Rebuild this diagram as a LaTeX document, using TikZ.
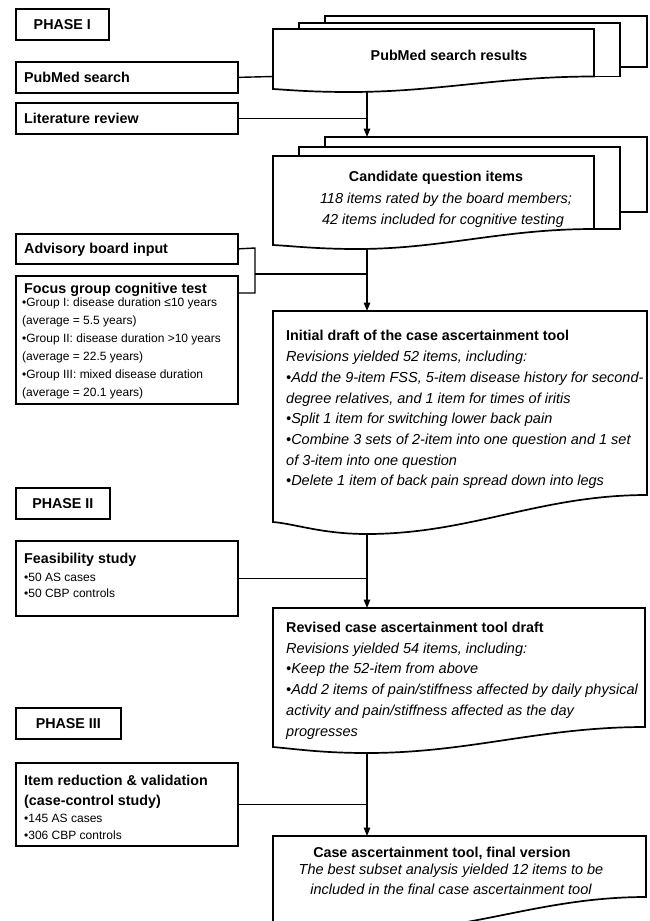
\documentclass[tikz,border=0pt]{standalone}
\usepackage{fontspec}
\setmainfont{Liberation Sans}
\usetikzlibrary{arrows.meta}
\begin{document}
\begin{tikzpicture}[x=1pt,y=-1pt,
  box/.style={draw,line width=1.7pt,fill=white,anchor=north west,inner sep=0pt},
  ttl/.style={font=\fontsize{14.3}{17}\selectfont\bfseries,inner sep=0pt},
  itl/.style={font=\fontsize{14.5}{17}\selectfont\itshape,inner sep=0pt},
  sml/.style={font=\fontsize{12}{14}\selectfont,inner sep=0pt},
  conn/.style={line width=1.4pt},
  arr/.style={conn,-{Triangle[length=8.5pt,width=6.5pt]}},
  docline/.style={draw,line width=1.7pt,fill=white,line join=miter}]
\useasboundingbox (0,0) rectangle (649,921);

% ---------- left column boxes ----------
\node[box,minimum width=93pt,minimum height=31pt] (ph1) at (15,8) {};
\node[ttl] (ph1t) at (ph1.center) {PHASE I};
\node[box,minimum width=222pt,minimum height=31pt] (pubmed) at (15,61) {};
\node[ttl,anchor=base west] (pubmedt) at (24,82) {PubMed search};
\node[box,minimum width=222pt,minimum height=31pt] (lit) at (15,102) {};
\node[ttl,anchor=base west] (litt) at (24,123) {Literature review};
\node[box,minimum width=222pt,minimum height=30pt] (adv) at (15,233) {};
\node[ttl,anchor=base west] (advt) at (24,253) {Advisory board input};
\node[box,minimum width=222pt,minimum height=128pt] (focus) at (15,275) {};
\node[ttl,anchor=base west] (focust) at (24,293) {Focus group cognitive test};
\node[sml,anchor=base west] (f1) at (22,306) {•Group I: disease duration ≤10 years};
\node[sml,anchor=base west] (f2) at (22,324) {(average = 5.5 years)};
\node[sml,anchor=base west] (f3) at (22,342) {•Group II: disease duration >10 years};
\node[sml,anchor=base west] (f4) at (22,360) {(average = 22.5 years)};
\node[sml,anchor=base west] (f5) at (22,378) {•Group III: mixed disease duration};
\node[sml,anchor=base west] (f6) at (22,396) {(average = 20.1 years)};

\node[box,minimum width=94pt,minimum height=31pt] (ph2) at (15,487) {};
\node[ttl] (ph2t) at (ph2.center) {PHASE II};
\node[box,minimum width=222pt,minimum height=75pt] (feas) at (15,540) {};
\node[ttl,anchor=base west] (feast) at (24,563) {Feasibility study};
\node[sml,anchor=base west] (fe1) at (24,581) {•50 AS cases};
\node[sml,anchor=base west] (fe2) at (24,597) {•50 CBP controls};

\node[box,minimum width=105pt,minimum height=31pt] (ph3) at (15,707) {};
\node[ttl] (ph3t) at (ph3.center) {PHASE III};
\node[box,minimum width=222pt,minimum height=83pt] (item) at (15,762) {};
\node[ttl,anchor=base west] (itemt1) at (24,785) {Item reduction \& validation};
\node[ttl,anchor=base west] (itemt2) at (24,805) {(case-control study)};
\node[sml,anchor=base west] (it1) at (24,822) {•145 AS cases};
\node[sml,anchor=base west] (it2) at (24,839) {•306 CBP controls};

% ---------- PubMed search results (stacked documents) ----------
\path[docline] (325,16) rectangle (647,67);
\path[docline] (299,23) rectangle (620,76.5);
\path[docline] (273,29) -- (594,29) -- (594,76.5) .. controls (499,76.5) and (438,92) .. (350,92) .. controls (310,92) and (290,90) .. (273,89) -- cycle;
\node[ttl] (pmrt) at (449,55) {PubMed search results};

% ---------- Candidate question items (stacked documents) ----------
\path[docline] (325,137) rectangle (647,212);
\path[docline] (299,147) rectangle (620,229);
\path[docline] (273,156) -- (594,156) -- (594,229) .. controls (502,229) and (442,249) .. (357,249) .. controls (317,249) and (292,246) .. (273,245) -- cycle;
\node[ttl] (candt) at (436,178) {Candidate question items};
\node[itl] (cand1) at (446,200) {118 items rated by the board members;};
\node[itl] (cand2) at (443,221) {42 items included for cognitive testing};

% ---------- Initial draft ----------
\path[docline] (273,311) -- (647,311) -- (647,495) .. controls (540,495) and (470,534) .. (367,534) .. controls (322,534) and (296,524) .. (273,522) -- cycle;
\node[ttl,anchor=base west] (initt) at (286,340) {Initial draft of the case ascertainment tool};
\node[itl,anchor=base west] (in1) at (286,361) {Revisions yielded 52 items, including:};
\node[itl,anchor=base west] (in2) at (286,382) {•Add the 9-item FSS, 5-item disease history for second-};
\node[itl,anchor=base west] (in3) at (286,403) {degree relatives, and 1 item for times of iritis};
\node[itl,anchor=base west] (in4) at (286,423) {•Split 1 item for switching lower back pain};
\node[itl,anchor=base west] (in5) at (286,444) {•Combine 3 sets of 2-item into one question and 1 set};
\node[itl,anchor=base west] (in6) at (286,465) {of 3-item into one question};
\node[itl,anchor=base west] (in7) at (286,485) {•Delete 1 item of back pain spread down into legs};

% ---------- Revised draft ----------
\path[docline] (273,608) -- (645,608) -- (645,727) .. controls (540,727) and (470,753) .. (367,753) .. controls (322,753) and (296,749) .. (273,747) -- cycle;
\node[ttl,anchor=base west] (revt) at (286,632) {Revised case ascertainment tool draft};
\node[itl,anchor=base west] (rv1) at (286,653) {Revisions yielded 54 items, including:};
\node[itl,anchor=base west] (rv2) at (286,673) {•Keep the 52-item from above};
\node[itl,anchor=base west] (rv3) at (286,694) {•Add 2 items of pain/stiffness affected by daily physical};
\node[itl,anchor=base west] (rv4) at (286,715) {activity and pain/stiffness affected as the day};
\node[itl,anchor=base west] (rv5) at (286,736) {progresses};

% ---------- Final version ----------
\path[docline] (273,836) -- (646,836) -- (646,897) .. controls (540,897) and (470,932) .. (367,932) .. controls (322,932) and (296,924) .. (273,922) -- cycle;
\node[ttl] (fint) at (442,853) {Case ascertainment tool, final version};
\node[itl] (fn1) at (451,871) {The best subset analysis yielded 12 items to be};
\node[itl] (fn2) at (451,889) {included in the final case ascertainment tool};

% ---------- connector points ----------
\coordinate (pmr-w) at (273,76.5);
\coordinate (pmr-s) at (367,92);
\coordinate (cand-n) at (367,137);
\coordinate (cand-s) at (367,249);
\coordinate (init-n) at (367,311);
\coordinate (init-s) at (367,534);
\coordinate (rev-n) at (367,608);
\coordinate (rev-s) at (367,753);
\coordinate (fin-n) at (367,836);
\coordinate (j-top) at (255,248);
\coordinate (j-mid) at (255,274);
\coordinate (j-bot) at (255,293);
\coordinate (focus-e) at (237,293);

% ---------- connectors ----------
\draw[conn] (pubmed.east) -- (pmr-w);
\draw[conn] (lit.east) -- (lit.east -| pmr-s);
\draw[arr] (pmr-s) -- (cand-n);
\draw[conn] (adv.east) -- (j-top) -- (j-bot) -- (focus-e);
\draw[conn] (j-mid) -- (j-mid -| cand-s);
\draw[arr] (cand-s) -- (init-n);
\draw[conn] (feas.east) -- (feas.east -| init-s);
\draw[arr] (init-s) -- (rev-n);
\draw[conn] (item.east) -- (item.east -| rev-s);
\draw[arr] (rev-s) -- (fin-n);
\end{tikzpicture}
\end{document}
